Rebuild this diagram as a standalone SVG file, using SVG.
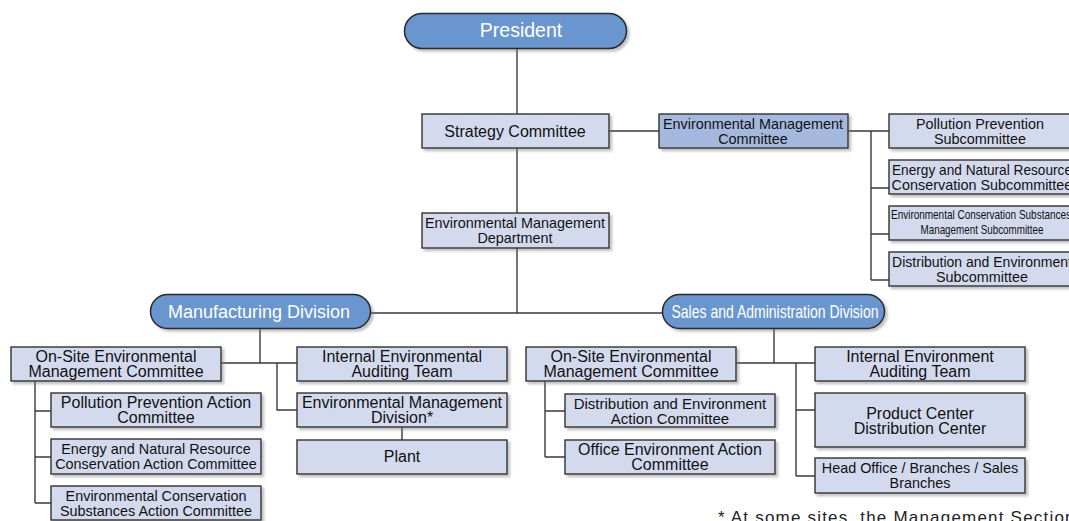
<svg xmlns="http://www.w3.org/2000/svg" width="1069" height="521" viewBox="0 0 1069 521">
<style>
.box{fill:#d4daed;stroke:#333;stroke-width:1.4;filter:url(#sh)}
.emc{fill:#a5b9df}
.pill{fill:#6b96cf;stroke:#2a2a2a;stroke-width:1.5;filter:url(#sh)}
text{font-family:"Liberation Sans",Arial,sans-serif;fill:#111;text-anchor:middle}
.w{fill:#fff}
.c{stroke:#3a3a3a;stroke-width:1.4;fill:none}
.f16{font-size:16px}.f15{font-size:15px}.f145{font-size:14.4px}.f14{font-size:14px}
</style>
<defs>
<filter id="sh" x="-10%" y="-20%" width="125%" height="160%">
<feDropShadow dx="2.5" dy="2.5" stdDeviation="0.8" flood-color="#777" flood-opacity="0.45"/>
</filter>
</defs>
<rect width="1069" height="521" fill="#fff"/>
<g id="connectors" class="c">
<path d="M517,48V114M609,131H659M848,131H889M871,131V280M871,188H889M871,234H889M871,280H889"/>
<path d="M517,148V213M517,248V313M370,313H662"/>
<path d="M260,328V363M221,363H297M277,363V410H297M402,427V440"/>
<path d="M35,381V503M35,411H51M35,457H51M35,503H51"/>
<path d="M774,328V363M736,363H815M796,363V476M796,410H815M796,476H815"/>
<path d="M545,381V457M545,411H565M545,457H565"/>
</g>
<g id="president"><rect class="pill" x="404.5" y="13.5" width="222" height="35" rx="17.5"/><text class="w" x="521" y="37" style="font-size:19.5px">President</text></g>
<g id="strategy"><rect class="box" x="422" y="114" width="187" height="34"/><text class="f16" x="515" y="137">Strategy Committee</text></g>
<g id="emc"><rect class="box emc" x="659" y="114" width="189" height="34"/><text class="f145" x="753" y="128.5">Environmental Management</text><text class="f145" x="753" y="143.5">Committee</text></g>
<g id="sub1"><rect class="box" x="889" y="114" width="185" height="34"/><text class="f145" x="980" y="128.5">Pollution Prevention</text><text class="f145" x="980" y="143.5">Subcommittee</text></g>
<g id="sub2"><rect class="box" x="889" y="160" width="185" height="34"/><text class="f145" x="982" y="174.5" textLength="180" lengthAdjust="spacingAndGlyphs">Energy and Natural Resource</text><text class="f145" x="982" y="189.5">Conservation Subcommittee</text></g>
<g id="sub3"><rect class="box" x="889" y="206" width="185" height="34"/><text x="981" y="219" style="font-size:13px" textLength="180" lengthAdjust="spacingAndGlyphs">Environmental Conservation Substances</text><text x="982" y="234" style="font-size:13px" textLength="123" lengthAdjust="spacingAndGlyphs">Management Subcommittee</text></g>
<g id="sub4"><rect class="box" x="889" y="252" width="185" height="34"/><text class="f14" x="982" y="266.5">Distribution and Environment</text><text class="f145" x="982" y="281.5">Subcommittee</text></g>
<g id="emd"><rect class="box" x="422" y="213" width="187" height="35"/><text class="f145" x="515" y="228">Environmental Management</text><text class="f145" x="515" y="243">Department</text></g>
<g id="manufacturing"><rect class="pill" x="150.5" y="294.5" width="220" height="34" rx="17"/><text class="w" x="259" y="318" style="font-size:18px">Manufacturing Division</text></g>
<g id="sales"><rect class="pill" x="662.5" y="294.5" width="222" height="34" rx="17"/><text class="w" x="775" y="318" style="font-size:19px" textLength="207" lengthAdjust="spacingAndGlyphs">Sales and Administration Division</text></g>
<g id="onsite1"><rect class="box" x="11" y="347" width="210" height="34"/><text class="f16" x="116" y="361.5">On-Site Environmental</text><text class="f16" x="116" y="376.5">Management Committee</text></g>
<g id="ppac"><rect class="box" x="51" y="393" width="210" height="34"/><text class="f16" x="156" y="407.5">Pollution Prevention Action</text><text class="f16" x="156" y="422.5">Committee</text></g>
<g id="enac"><rect class="box" x="51" y="439" width="210" height="35"/><text class="f145" x="156" y="453.5">Energy and Natural Resource</text><text class="f145" x="156" y="468.5">Conservation Action Committee</text></g>
<g id="ecsac"><rect class="box" x="51" y="486" width="210" height="34"/><text class="f145" x="156" y="500.5">Environmental Conservation</text><text class="f145" x="156" y="515.5">Substances Action Committee</text></g>
<g id="internal1"><rect class="box" x="297" y="347" width="210" height="34"/><text class="f16" x="402" y="361.5">Internal Environmental</text><text class="f16" x="402" y="376.5">Auditing Team</text></g>
<g id="emdiv"><rect class="box" x="297" y="393" width="210" height="34"/><text class="f16" x="402" y="407.5">Environmental Management</text><text class="f16" x="402" y="422.5">Division*</text></g>
<g id="plant"><rect class="box" x="297" y="440" width="210" height="34"/><text class="f16" x="402" y="462">Plant</text></g>
<g id="onsite2"><rect class="box" x="526" y="347" width="210" height="34"/><text class="f16" x="631" y="361.5">On-Site Environmental</text><text class="f16" x="631" y="376.5">Management Committee</text></g>
<g id="deac"><rect class="box" x="565" y="394" width="210" height="33"/><text class="f15" x="670" y="408.5">Distribution and Environment</text><text class="f15" x="670" y="423.5">Action Committee</text></g>
<g id="oeac"><rect class="box" x="565" y="440" width="210" height="34"/><text class="f16" x="670" y="454.5">Office Environment Action</text><text class="f16" x="670" y="469.5">Committee</text></g>
<g id="internal2"><rect class="box" x="815" y="347" width="210" height="34"/><text class="f16" x="920" y="361.5">Internal Environment</text><text class="f16" x="920" y="376.5">Auditing Team</text></g>
<g id="pcdc"><rect class="box" x="815" y="393" width="210" height="54"/><text class="f16" x="920" y="418.5">Product Center</text><text class="f16" x="920" y="433.5">Distribution Center</text></g>
<g id="hobs"><rect class="box" x="815" y="458" width="210" height="35"/><text class="f145" x="920" y="473">Head Office / Branches / Sales</text><text class="f145" x="920" y="488">Branches</text></g>
<text x="718" y="523" style="font-size:17px;text-anchor:start;fill:#222;letter-spacing:1.2px">* At some sites, the Management Section</text>
</svg>
